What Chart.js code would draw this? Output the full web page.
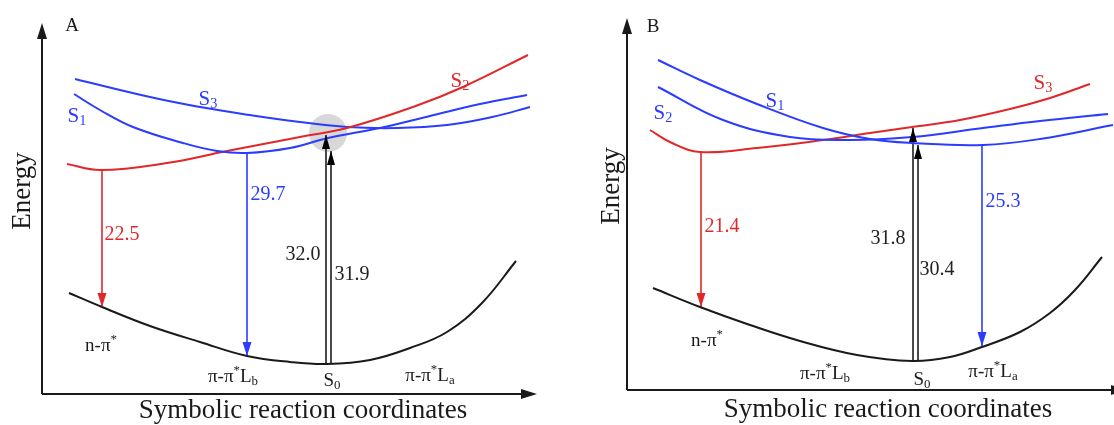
<!DOCTYPE html>
<html>
<head>
<meta charset="utf-8">
<script src="https://cdn.jsdelivr.net/npm/chart.js@4.4.0/dist/chart.umd.min.js"></script>
<style>
  html, body { margin: 0; padding: 0; background: #fff; }
  #wrap { position: relative; width: 1114px; height: 425px; overflow: hidden; }
  canvas { position: absolute; top: 0; }
</style>
</head>
<body>
<div id="wrap">
  <canvas id="panelA" width="557" height="425" style="left:0"></canvas>
  <canvas id="panelB" width="557" height="425" style="left:557px"></canvas>
</div>
<script>

// =======================
// PANEL A DATA  (x = reaction coordinate, y = energy, arbitrary units)
// =======================

const aS0 = [[27,101],[60,87],[108,68],[158,52],[205,38],[248,32],[285,30],[328,34],[368,46],[405,62],[440,91],[474,133]];
const aS1 = [[32,300],[58,284],[91,267],[141,251],[175,243],[205,241],[248,246],[286,256],[338,266],[388,278],[438,290],[485,299]];
const aS2 = [[25,230],[58,224],[125,231],[185,243],[258,257],[305,266],[371,287],[421,307],[486,339]];
const aS3 = [[33,315],[108,297],[158,287],[208,279],[258,272],[305,267],[355,266],[405,269],[450,277],[488,287]];

// transitions: [x, from, to]
const aEmission = [[60,224,87],[205,241,38]];      // S2 -> S0 (red), S1 -> S0 (blue)
const aAbsorption = [[284,30,259],[289,30,243]];   // S0 -> S2/S3, S0 -> S1
const aValues = ["22.5","29.7","32.0","31.9"];
const aValuePos = [[80,161],[226,201],[261,141],[310,121]];
const aCrossing = [[286,261]];

const aStateNames = ["S_1","S_3","S_2"];
const aStatePos = [[35,279],[166,296],[418,314]];
const aGroundNames = ["n-π^*","π-π^*L_b","S_0","π-π^*L_a"];
const aGroundPos = [[59,49],[191,18],[290,14],[388,19]];

// =======================
// PANEL B DATA
// =======================

const bS0 = [[26,102],[73,83],[123,65],[173,49],[230,35],[285,29],[323,33],[355,43],[393,58],[423,77],[448,100],[475,133]];
const bS1 = [[31,330],[73,310],[130,286],[196,262],[243,251],[285,247],[356,245],[413,251],[486,265]];
const bS2 = [[31,303],[96,270],[163,253],[223,250],[285,253],[356,262],[413,269],[481,276]];
const bS3 = [[23,260],[45,247],[73,238],[130,242],[196,250],[243,257],[285,263],[333,270],[383,281],[423,292],[463,306]];

const bEmission = [[74,238,83],[355,245,44]];      // S3 -> S0 (red), S1 -> S0 (blue)
const bAbsorption = [[286,30,262],[291,30,245]];
const bValues = ["21.4","25.3","31.8","30.4"];
const bValuePos = [[95,165],[376,190],[261,153],[310,122]];

const bStateNames = ["S_2","S_1","S_3"];
const bStatePos = [[36,278],[148,290],[416,308]];
const bGroundNames = ["n-π^*","π-π^*L_b","S_0","π-π^*L_a"];
const bGroundPos = [[80,50],[198,17],[295,11],[366,19]];

// =======================
// STYLE
// =======================

const RED = "#e0282a";
const BLUE = "#2b3cff";
const INK = "#1a1a1a";
const SERIF = '"Liberation Serif", "Times New Roman", serif';

// =======================
// HELPERS
// =======================

function curve(points, color) {
  return {
    type: "line",
    data: points.map(p => ({ x: p[0], y: p[1] })),
    borderColor: color,
    borderWidth: 2,
    pointRadius: 0,
    tension: 0.4,
    fill: false,
    order: 1
  };
}

function stick(t, color, width) {
  return {
    type: "line",
    data: [{ x: t[0], y: t[1] }, { x: t[0], y: t[2] }],
    borderColor: color,
    borderWidth: width,
    pointRadius: 0,
    tension: 0,
    fill: false,
    order: 2
  };
}

// '_' = next char as subscript, '^' = next char as superscript
function richText(ctx, str, x, y, size, color) {
  const parts = [];
  for (let i = 0; i < str.length; i++) {
    const ch = str[i];
    if ((ch === "_" || ch === "^") && i + 1 < str.length) {
      parts.push({ t: str[i + 1], k: ch === "_" ? -1 : 1 });
      i++;
    } else {
      parts.push({ t: ch, k: 0 });
    }
  }
  let w = 0;
  parts.forEach(p => {
    p.s = p.k ? size * 0.68 : size;
    ctx.font = p.s + "px " + SERIF;
    p.w = ctx.measureText(p.t).width;
    w += p.w;
  });
  let cx = x - w / 2;
  const base = y + size * 0.33;
  ctx.fillStyle = color;
  ctx.textAlign = "left";
  ctx.textBaseline = "alphabetic";
  parts.forEach(p => {
    ctx.font = p.s + "px " + SERIF;
    const dy = p.k === -1 ? size * 0.15 : p.k === 1 ? -size * 0.42 : 0;
    ctx.fillText(p.t, cx, base + dy);
    cx += p.w;
  });
}

function arrowHead(ctx, x, y, dir, color, w, len) {
  // dir = -1 : pointing up on screen, +1 : pointing down
  ctx.fillStyle = color;
  ctx.beginPath();
  ctx.moveTo(x, y);
  ctx.lineTo(x - w / 2, y - dir * len);
  ctx.lineTo(x + w / 2, y - dir * len);
  ctx.closePath();
  ctx.fill();
}

// =======================
// DECORATION PLUGIN (axes, arrowheads, texts)
// =======================

const decor = {
  id: "decor",
  beforeDatasetsDraw(chart, args, o) {
    const ctx = chart.ctx;
    const X = v => chart.scales.x.getPixelForValue(v);
    const Y = v => chart.scales.y.getPixelForValue(v);
    ctx.save();
    ctx.strokeStyle = INK;
    ctx.lineWidth = 2;
    ctx.beginPath();
    ctx.moveTo(X(0), Y(0));
    ctx.lineTo(X(0), Y(o.yTip) + 12);
    ctx.moveTo(X(0), Y(0));
    ctx.lineTo(X(o.xTip) - 12, Y(0));
    ctx.stroke();
    ctx.fillStyle = INK;
    ctx.beginPath();
    ctx.moveTo(X(0), Y(o.yTip));
    ctx.lineTo(X(0) - 5, Y(o.yTip) + 16);
    ctx.lineTo(X(0) + 5, Y(o.yTip) + 16);
    ctx.closePath();
    ctx.fill();
    ctx.beginPath();
    ctx.moveTo(X(o.xTip), Y(0));
    ctx.lineTo(X(o.xTip) - 16, Y(0) - 5);
    ctx.lineTo(X(o.xTip) - 16, Y(0) + 5);
    ctx.closePath();
    ctx.fill();

    // axis titles
    ctx.font = "27px " + SERIF;
    ctx.textAlign = "center";
    ctx.textBaseline = "middle";
    ctx.fillStyle = INK;
    ctx.fillText("Symbolic reaction coordinates", X(o.xTitle[0]), Y(o.xTitle[1]));
    ctx.save();
    ctx.translate(X(o.yTitle[0]), Y(o.yTitle[1]));
    ctx.rotate(-Math.PI / 2);
    ctx.fillText("Energy", 0, 0);
    ctx.restore();

    richText(ctx, o.letter, X(o.letterPos[0]), Y(o.letterPos[1]), 19, INK);
    ctx.restore();
  },
  afterDatasetsDraw(chart, args, o) {
    const ctx = chart.ctx;
    const X = v => chart.scales.x.getPixelForValue(v);
    const Y = v => chart.scales.y.getPixelForValue(v);
    ctx.save();
    o.emission.forEach((t, i) => arrowHead(ctx, X(t[0]), Y(t[2]), 1, o.emissionColors[i], 9, 14));
    o.absorption.forEach(t => arrowHead(ctx, X(t[0]), Y(t[2]), -1, "#000", 8, 14));
    o.values.forEach((v, i) => richText(ctx, v, X(o.valuePos[i][0]), Y(o.valuePos[i][1]), 20, o.valueColors[i]));
    o.stateNames.forEach((s, i) => richText(ctx, s, X(o.statePos[i][0]), Y(o.statePos[i][1]), 21, o.stateColors[i]));
    o.groundNames.forEach((s, i) => richText(ctx, s, X(o.groundPos[i][0]), Y(o.groundPos[i][1]), 19, INK));
    ctx.restore();
  }
};

// =======================
// BUILD PANELS
// =======================

function makePanel(id, p) {
  const datasets = [
    {
      type: "bubble",
      data: p.crossing.map(c => ({ x: c[0], y: c[1], r: 19 })),
      backgroundColor: "rgba(190,190,190,0.6)",
      borderWidth: 0,
      order: 10
    },
    curve(p.s0, INK)
  ];
  p.curves.forEach((c, i) => datasets.push(curve(c, p.curveColors[i])));
  p.emission.forEach((t, i) => datasets.push(stick(t, p.emissionColors[i], 1.6)));
  p.absorption.forEach(t => datasets.push(stick(t, "#4a4a4a", 2)));

  return new Chart(document.getElementById(id).getContext("2d"), {
    type: "line",
    data: { datasets },
    options: {
      responsive: false,
      animation: false,
      events: [],
      layout: { padding: 0, autoPadding: false },
      scales: {
        x: { type: "linear", display: false, min: p.xRange[0], max: p.xRange[1] },
        y: { type: "linear", display: false, min: p.yRange[0], max: p.yRange[1] }
      },
      plugins: {
        legend: { display: false },
        tooltip: { enabled: false },
        decor: p
      }
    },
    plugins: [decor]
  });
}

makePanel("panelA", {
  xRange: [-42, 515], yRange: [-31, 394],
  xTip: 495, yTip: 371,
  xTitle: [261, -17], yTitle: [-19, 203],
  letter: "A", letterPos: [30, 369],
  s0: aS0,
  curves: [aS1, aS2, aS3], curveColors: [BLUE, RED, BLUE],
  crossing: aCrossing,
  emission: aEmission, emissionColors: [RED, BLUE],
  absorption: aAbsorption,
  values: aValues, valuePos: aValuePos, valueColors: [RED, BLUE, "#222", "#222"],
  stateNames: aStateNames, statePos: aStatePos, stateColors: [BLUE, BLUE, RED],
  groundNames: aGroundNames, groundPos: aGroundPos
});

makePanel("panelB", {
  xRange: [-70, 487], yRange: [-35, 390],
  xTip: 500, yTip: 372,
  xTitle: [261, -20], yTitle: [-15, 204],
  letter: "B", letterPos: [26, 364],
  s0: bS0,
  curves: [bS1, bS2, bS3], curveColors: [BLUE, BLUE, RED],
  crossing: [],
  emission: bEmission, emissionColors: [RED, BLUE],
  absorption: bAbsorption,
  values: bValues, valuePos: bValuePos, valueColors: [RED, BLUE, "#222", "#222"],
  stateNames: bStateNames, statePos: bStatePos, stateColors: [BLUE, BLUE, RED],
  groundNames: bGroundNames, groundPos: bGroundPos
});

</script>
</body>
</html>
